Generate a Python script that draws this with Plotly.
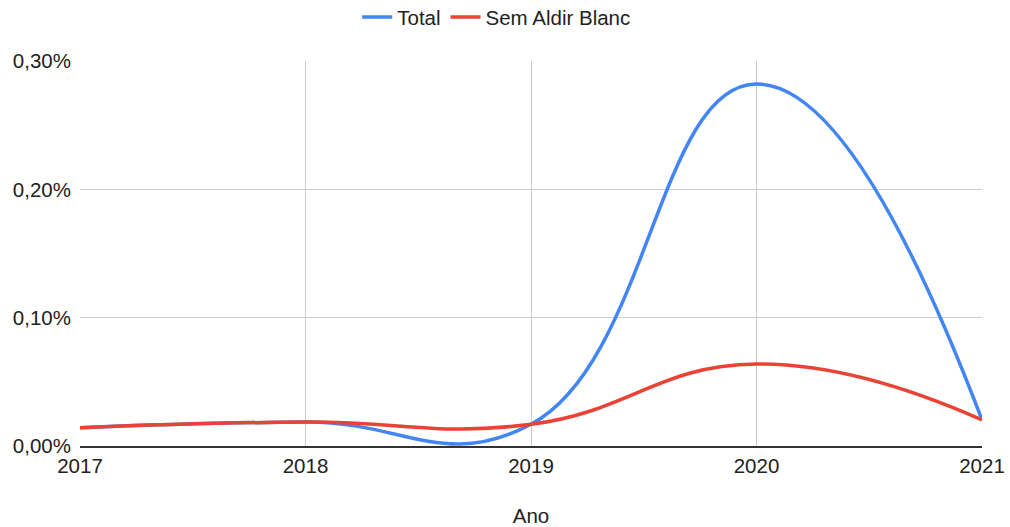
import plotly.graph_objects as go

anos = [2017, 2018, 2019, 2020, 2021]
total = [0.000143, 0.000187, 0.000169, 0.002821, 0.000203]
sem_aldir_blanc = [0.000143, 0.000187, 0.000169, 0.000639, 0.000203]
y_ticks = [0, 0.001, 0.002, 0.003]
y_tick_labels = ["0,00%", "0,10%", "0,20%", "0,30%"]

font_family = "Arial, 'Liberation Sans', sans-serif"
fs = 20.5

fig = go.Figure()
fig.add_trace(go.Scatter(x=anos, y=total, name="Total", mode="lines",
                         line=dict(color="#4285F4", width=3.5, shape="spline", smoothing=1.3)))
fig.add_trace(go.Scatter(x=anos, y=sem_aldir_blanc, name="Sem Aldir Blanc", mode="lines",
                         line=dict(color="#EA4335", width=3.5, shape="spline", smoothing=1.3)))

fig.update_layout(
    width=1010, height=527,
    margin=dict(l=80, r=28, t=61, b=81, autoexpand=False),
    paper_bgcolor="white", plot_bgcolor="white",
    font=dict(family=font_family, size=fs, color="#222222"),
    showlegend=True,
    legend=dict(orientation="h", x=0.462, xanchor="center", y=1.114, yanchor="middle",
                font=dict(size=fs, color="#222222"), itemwidth=30),
    xaxis=dict(range=[2017, 2021], tickvals=anos, ticktext=[str(a) for a in anos],
               showgrid=True, gridcolor="#cccccc", gridwidth=1,
               showline=True, linecolor="#333333", linewidth=2,
               zeroline=False, ticks="",
               title=dict(text="Ano", standoff=36, font=dict(size=fs))),
    yaxis=dict(range=[0, 0.003], tickvals=y_ticks, ticktext=y_tick_labels,
               showgrid=True, gridcolor="#cccccc", gridwidth=1,
               zeroline=False, showline=False, ticks="", ticklabelstandoff=8),
)

fig.write_html("out.html")
